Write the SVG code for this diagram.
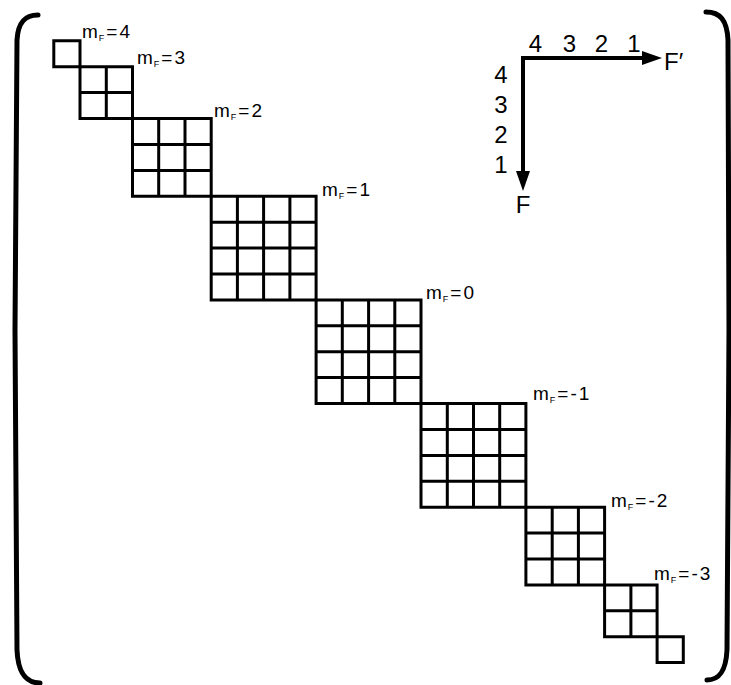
<svg xmlns="http://www.w3.org/2000/svg" width="731" height="685" viewBox="0 0 731 685">
<style>
.grid{fill:none;stroke:#000;stroke-width:3;stroke-linecap:square}
.brk{fill:none;stroke:#000;stroke-width:5;stroke-linecap:round;stroke-linejoin:round}
.lbl{font-family:"Liberation Sans",Arial,sans-serif;font-size:19px;fill:#000;letter-spacing:2px}
.sub{font-size:9px;letter-spacing:0}
.ax{font-family:"Liberation Sans",Arial,sans-serif;font-size:24px;fill:#000}
.axl{fill:none;stroke:#000;stroke-width:4}
</style>
<defs>
<marker id="ah" markerUnits="userSpaceOnUse" markerWidth="20" markerHeight="14" refX="8" refY="7" orient="auto">
<path d="M0,0 L20,7 L0,14 Z" fill="#000"/>
</marker>
</defs>
<rect width="731" height="685" fill="#fff"/>
<g id="brackets">
<path class="brk" d="M38,15 C25,15 18,22 17,40 L15,330 L17,650 C18,672 25,683 40,683"/>
<path class="brk" d="M706,12 C720,12 727,20 728,40 L729,330 L727,650 C726,670 720,680 707,680"/>
</g>
<g id="block-mF4">
<path class="grid" d="M53.8,40.8H80V66.7H53.8Z"/>
<text class="lbl" x="82" y="38">m<tspan class="sub" dx="-1" dy="3">F</tspan><tspan dy="-3" dx="2">=4</tspan></text>
</g>
<g id="block-mF3">
<path class="grid" d="M80,66.7H132.5V118.5H80Z M106.3,66.7V118.5 M80,92.6H132.5"/>
<text class="lbl" x="137" y="64">m<tspan class="sub" dx="-1" dy="3">F</tspan><tspan dy="-3" dx="2">=3</tspan></text>
</g>
<g id="block-mF2">
<path class="grid" d="M132.5,118.5H211.2V196.3H132.5Z M158.7,118.5V196.3 M185,118.5V196.3 M132.5,144.4H211.2 M132.5,170.4H211.2"/>
<text class="lbl" x="214" y="117">m<tspan class="sub" dx="-1" dy="3">F</tspan><tspan dy="-3" dx="2">=2</tspan></text>
</g>
<g id="block-mF1">
<path class="grid" d="M211.2,196.3H316.1V299.9H211.2Z M237.4,196.3V299.9 M263.6,196.3V299.9 M289.9,196.3V299.9 M211.2,222.2H316.1 M211.2,248.1H316.1 M211.2,274H316.1"/>
<text class="lbl" x="322" y="196">m<tspan class="sub" dx="-1" dy="3">F</tspan><tspan dy="-3" dx="2">=1</tspan></text>
</g>
<g id="block-mF0">
<path class="grid" d="M316.1,299.9H421V403.5H316.1Z M342.3,299.9V403.5 M368.6,299.9V403.5 M394.8,299.9V403.5 M316.1,325.8H421 M316.1,351.7H421 M316.1,377.6H421"/>
<text class="lbl" x="426" y="299">m<tspan class="sub" dx="-1" dy="3">F</tspan><tspan dy="-3" dx="2">=0</tspan></text>
</g>
<g id="block-mF-1">
<path class="grid" d="M421,403.5H525.9V507.2H421Z M447.3,403.5V507.2 M473.5,403.5V507.2 M499.7,403.5V507.2 M421,429.5H525.9 M421,455.4H525.9 M421,481.3H525.9"/>
<text class="lbl" x="533" y="400">m<tspan class="sub" dx="-1" dy="3">F</tspan><tspan dy="-3" dx="2">=-1</tspan></text>
</g>
<g id="block-mF-2">
<path class="grid" d="M525.9,507.2H604.6V584.9H525.9Z M552.2,507.2V584.9 M578.4,507.2V584.9 M525.9,533.1H604.6 M525.9,559H604.6"/>
<text class="lbl" x="611" y="507">m<tspan class="sub" dx="-1" dy="3">F</tspan><tspan dy="-3" dx="2">=-2</tspan></text>
</g>
<g id="block-mF-3">
<path class="grid" d="M604.6,584.9H657.1V636.7H604.6Z M630.9,584.9V636.7 M604.6,610.8H657.1"/>
<text class="lbl" x="654" y="580">m<tspan class="sub" dx="-1" dy="3">F</tspan><tspan dy="-3" dx="2">=-3</tspan></text>
</g>
<g id="block-mF-4">
<path class="grid" d="M657.1,636.7H683.3V662.6H657.1Z"/>
</g>
<g id="connectors">
<path class="axl" d="M521,58H650" marker-end="url(#ah)"/>
<path class="axl" d="M523,56V179" marker-end="url(#ah)"/>
</g>
<g id="axis-labels" class="ax">
<text x="535.5" y="52" text-anchor="middle">4</text>
<text x="569.5" y="52" text-anchor="middle">3</text>
<text x="601.5" y="52" text-anchor="middle">2</text>
<text x="634" y="52" text-anchor="middle">1</text>
<text x="664" y="70">F′</text>
<text x="501" y="83" text-anchor="middle">4</text>
<text x="501" y="113" text-anchor="middle">3</text>
<text x="501" y="143" text-anchor="middle">2</text>
<text x="501" y="173" text-anchor="middle">1</text>
<text x="523" y="213" text-anchor="middle">F</text>
</g>
</svg>
